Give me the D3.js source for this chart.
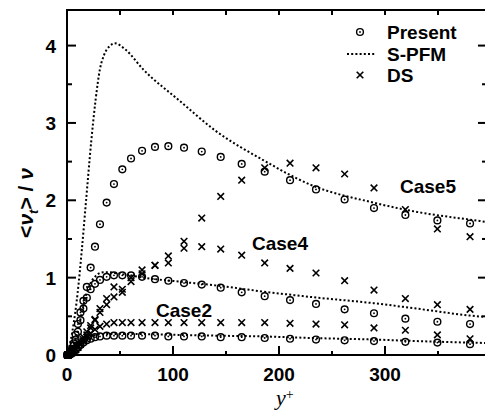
<!DOCTYPE html>
<html>
<head>
<meta charset="utf-8">
<script src="https://cdn.jsdelivr.net/npm/d3@7"></script>
<style>
  body { margin: 0; background: #fff; }
  text { font-family: "Liberation Sans", Arial, sans-serif; font-weight: bold; fill: #000; }
</style>
</head>
<body>
<div id="vis"></div>
<script>
// y+ positions shared by the Present and DS samples
var gridX = [0.3, 0.8, 1.5, 2.4, 3.5, 4.8, 6.4, 8.2, 10.3, 12.7, 15.5, 18.7, 22.3, 26.4, 31.1, 37.4,
    44.3, 52.2, 60.4, 70.8, 83.0, 95.6, 110.4, 127.1, 145.0, 164.8, 186.5, 210.4, 234.9, 261.9,
    289.6, 319.2, 349.4, 380.2];

// Present (circles)
var present5 = [0, 0, 0.01, 0.02, 0.04, 0.08, 0.15, 0.26, 0.4, 0.55, 0.7, 0.88, 1.13, 1.40, 1.69, 1.97,
    2.21, 2.40, 2.54, 2.64, 2.69, 2.70, 2.68, 2.63, 2.56, 2.47, 2.37, 2.26, 2.14, 2.01,
    1.90, 1.81, 1.74, 1.70];
var present4 = [0, 0, 0.01, 0.02, 0.04, 0.07, 0.12, 0.2, 0.3, 0.45, 0.6, 0.74, 0.85, 0.92, 0.97, 1.01,
    1.03, 1.03, 1.03, 1.01, 0.98, 0.96, 0.93, 0.91, 0.87, 0.81, 0.76, 0.71, 0.66, 0.59,
    0.54, 0.47, 0.43, 0.40];
var present2 = [0, 0, 0, 0.01, 0.02, 0.03, 0.05, 0.07, 0.1, 0.13, 0.16, 0.19, 0.21, 0.23, 0.24, 0.25,
    0.25, 0.25, 0.25, 0.25, 0.25, 0.24, 0.24, 0.24, 0.23, 0.23, 0.22, 0.21, 0.20, 0.19,
    0.18, 0.17, 0.16, 0.14];

// DS (crosses)
var ds5 = [0, 0, 0, 0.01, 0.02, 0.03, 0.05, 0.08, 0.12, 0.17, 0.23, 0.3, 0.38, 0.46, 0.55, 0.65,
    0.75, 0.85, 0.95, 1.05, 1.16, 1.28, 1.47, 1.77, 2.05, 2.26, 2.42, 2.48, 2.42, 2.34,
    2.16, 1.88, 1.63, 1.53];
var ds4 = [0, 0, 0, 0.01, 0.02, 0.03, 0.05, 0.07, 0.1, 0.14, 0.2, 0.26, 0.35, 0.45, 0.6, 0.73,
    0.88, 0.81, 1.0, 1.1, 1.16, 1.19, 1.38, 1.40, 1.37, 1.29, 1.19, 1.12, 1.06, 0.96,
    0.84, 0.73, 0.65, 0.59];
var ds2 = [0, 0, 0, 0.01, 0.02, 0.03, 0.05, 0.07, 0.1, 0.14, 0.18, 0.23, 0.28, 0.33, 0.37, 0.4,
    0.42, 0.42, 0.42, 0.42, 0.42, 0.42, 0.42, 0.42, 0.42, 0.42, 0.42, 0.41, 0.40, 0.39,
    0.35, 0.32, 0.26, 0.21];

// S-PFM (dotted curves)
var pfmX = [0, 5, 10, 14, 18, 23, 27, 31, 35, 40, 45, 55, 72, 105, 140, 185, 230, 289, 330, 380, 396];
var pfm5 = [0, 0.3, 0.8, 1.36, 2.0, 2.78, 3.3, 3.69, 3.88, 3.99, 4.03, 3.95, 3.69, 3.30, 2.9, 2.52, 2.2, 1.97, 1.85, 1.75, 1.72];
var pfm4 = [0, 0.08, 0.3, 0.55, 0.78, 0.95, 1.02, 1.06, 1.07, 1.07, 1.06, 1.04, 1.0, 0.95, 0.9, 0.82, 0.75, 0.67, 0.6, 0.51, 0.49];
var pfm2 = [0, 0.03, 0.1, 0.16, 0.2, 0.24, 0.26, 0.27, 0.27, 0.27, 0.27, 0.27, 0.27, 0.26, 0.25, 0.24, 0.22, 0.2, 0.18, 0.16, 0.155];

var xTicks = [0, 100, 200, 300];
var yTicks = [0, 1, 2, 3, 4];
var legendLabels = ["Present", "S-PFM", "DS"];

var W = 485, H = 410;
var pL = 67, pT = 10, pR = 487, pB = 355;

var x = d3.scaleLinear().domain([0, 396.2]).range([pL, pR]);
var y = d3.scaleLinear().domain([0, 4.46]).range([pB, pT]);

var svg = d3.select("#vis").append("svg")
    .attr("width", W)
    .attr("height", H);

var plot = svg.append("g");

// inward ticks on all four sides
function ticks(scale, values, len, side) {
    values.forEach(function(v) {
        var p = scale(v);
        if (side == "bottom") plot.append("line").attr("x1", p).attr("x2", p).attr("y1", pB).attr("y2", pB - len);
        if (side == "top") plot.append("line").attr("x1", p).attr("x2", p).attr("y1", pT).attr("y2", pT + len);
        if (side == "left") plot.append("line").attr("y1", p).attr("y2", p).attr("x1", pL).attr("x2", pL + len);
        if (side == "right") plot.append("line").attr("y1", p).attr("y2", p).attr("x1", pR).attr("x2", pR - len);
    });
}
var xMajor = d3.range(0, 400, 100), xMinor = d3.range(50, 400, 100);
var yMajor = d3.range(0, 4.5, 1), yMinor = d3.range(0.5, 4.5, 1);
ticks(x, xMajor, 9, "bottom"); ticks(x, xMinor, 4, "bottom");
ticks(x, xMajor, 5, "top"); ticks(x, xMinor, 5, "top");
ticks(y, yMajor, 9, "left"); ticks(y, yMinor, 5, "left");
ticks(y, yMajor, 9, "right"); ticks(y, yMinor, 5, "right");
plot.selectAll("line").attr("stroke", "#000").attr("stroke-width", 2);

plot.append("rect")
    .attr("x", pL).attr("y", pT)
    .attr("width", pR - pL).attr("height", pB - pT)
    .attr("fill", "none").attr("stroke", "#000").attr("stroke-width", 2);

// tick labels
svg.selectAll(".xl").data(xTicks).enter().append("text")
    .attr("x", function(d) { return x(d); })
    .attr("y", 381)
    .attr("text-anchor", "middle")
    .style("font-size", "19px")
    .text(function(d) { return d; });

svg.selectAll(".yl").data(yTicks).enter().append("text")
    .attr("x", 56)
    .attr("y", function(d) { return y(d) + 7; })
    .attr("text-anchor", "end")
    .style("font-size", "19px")
    .text(function(d) { return d; });

// axis titles
var xt = svg.append("text")
    .attr("x", 276).attr("y", 405)
    .style("font-family", "'Liberation Serif', serif")
    .style("font-style", "italic")
    .style("font-weight", "normal")
    .style("font-size", "22px");
xt.append("tspan").text("y");
xt.append("tspan").attr("dy", -6).style("font-size", "14px").style("font-style", "normal").text("+");

var yt = svg.append("text")
    .attr("transform", "translate(33,203) rotate(-90)")
    .attr("text-anchor", "middle")
    .style("font-size", "21px");
yt.append("tspan").text("<");
yt.append("tspan").style("font-style", "italic").text("ν");
yt.append("tspan").attr("dy", 5).style("font-size", "13px").style("font-style", "italic").text("t");
yt.append("tspan").attr("dy", -5).text("> / ");
yt.append("tspan").style("font-style", "italic").text("ν");

// S-PFM lines
var line = d3.line()
    .curve(d3.curveMonotoneX)
    .x(function(d) { return x(d[0]); })
    .y(function(d) { return y(d[1]); });

[pfm5, pfm4, pfm2].forEach(function(s) {
    plot.append("path")
        .datum(pfmX.map(function(v, i) { return [v, s[i]]; }))
        .attr("d", line)
        .attr("fill", "none")
        .attr("stroke", "#000")
        .attr("stroke-width", 2)
        .attr("stroke-dasharray", "2,2.2");
});

function circle(g, cx, cy) {
    g.append("circle").attr("cx", cx).attr("cy", cy).attr("r", 3.4)
        .attr("fill", "none").attr("stroke", "#000").attr("stroke-width", 1.4);
    g.append("circle").attr("cx", cx).attr("cy", cy).attr("r", 0.9).attr("fill", "#000");
}
function cross(g, cx, cy) {
    var s = 3.3;
    g.append("path")
        .attr("d", "M" + (cx - s) + "," + (cy - s) + "L" + (cx + s) + "," + (cy + s) +
                   "M" + (cx - s) + "," + (cy + s) + "L" + (cx + s) + "," + (cy - s))
        .attr("stroke", "#000").attr("stroke-width", 1.6);
}

var marks = plot.append("g");
[ds5, ds4, ds2].forEach(function(s) {
    gridX.forEach(function(v, i) { cross(marks, x(v), y(s[i])); });
});
[present5, present4, present2].forEach(function(s) {
    gridX.forEach(function(v, i) { circle(marks, x(v), y(s[i])); });
});

// case labels
var caseLabels = [["Case5", 400, 193], ["Case4", 252, 250], ["Case2", 156, 317]];
caseLabels.forEach(function(c) {
    svg.append("text").attr("x", c[1]).attr("y", c[2]).style("font-size", "19px").text(c[0]);
});

// legend
var lg = svg.append("g");
circle(lg, 360, 32);
lg.append("line").attr("x1", 347).attr("x2", 376).attr("y1", 54).attr("y2", 54)
    .attr("stroke", "#000").attr("stroke-width", 2).attr("stroke-dasharray", "2,2.2");
cross(lg, 360, 75);
legendLabels.forEach(function(t, i) {
    lg.append("text").attr("x", 387).attr("y", 39 + i * 21.5).style("font-size", "19px").text(t);
});
</script>
</body>
</html>
